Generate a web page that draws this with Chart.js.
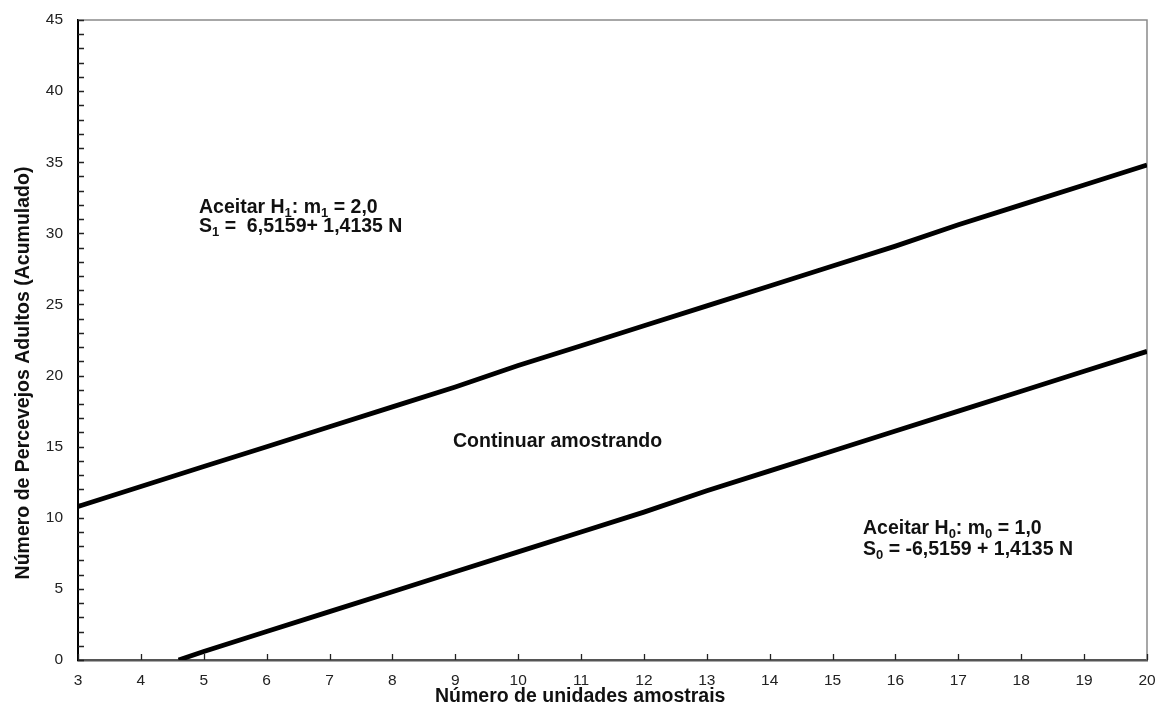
<!DOCTYPE html>
<html><head><meta charset="utf-8">
<script src="https://cdn.jsdelivr.net/npm/chart.js@4/dist/chart.umd.min.js"></script>
<style>html,body{margin:0;padding:0;background:#fff}#wrap{width:1174px;height:711px;position:relative}</style>
</head><body><div id="wrap"><canvas id="c"></canvas></div>
<script>
// Número de unidades amostrais (N) and cumulative counts
const upperN = [3,4,5,6,7,8,9,10,11,12,13,14,15,16,17,18,19,20];
const upperS = [10.8,12.2,13.6,15.0,16.4,17.8,19.2,20.7,22.1,23.5,24.9,26.3,27.7,29.1,30.6,32.0,33.4,34.8];
const lowerN = [4.6,5,6,7,8,9,10,11,12,13,14,15,16,17,18,19,20];
const lowerS = [0,0.6,2.0,3.4,4.8,6.2,7.6,9.0,10.4,11.9,13.3,14.7,16.1,17.5,18.9,20.3,21.7];
const xRange = [3,20];
const yRange = [0,45];
const yLabelStep = 5;
const xTitle = 'Número de unidades amostrais';
const yTitle = 'Número de Percevejos Adultos (Acumulado)';
// annotation texts (segments: [text, isSubscript]) anchored in data units
const notes = [
  {x:4.924, y:31.43, seg:[['Aceitar H',0],['1',1],[': m',0],['1',1],[' = 2,0',0]]},
  {x:4.924, y:30.09, seg:[['S',0],['1',1],[' =  6,5159+ 1,4135 N',0]]},
  {x:8.964, y:14.98, seg:[['Continuar amostrando',0]]},
  {x:15.484, y:8.86, seg:[['Aceitar H',0],['0',1],[': m',0],['0',1],[' = 1,0',0]]},
  {x:15.484, y:7.38, seg:[['S',0],['0',1],[' = -6,5159 + 1,4135 N',0]]}
];

const FONT = '"Liberation Sans", Arial, sans-serif';
const mk = (xs, ys) => xs.map((x,i)=>({x, y:ys[i]}));

const framePlugin = {
  id:'frame',
  beforeDatasetsDraw(chart){
    const {ctx, chartArea:a} = chart;
    ctx.save();
    ctx.strokeStyle = '#8a8a8a';
    ctx.lineWidth = 1.5;
    ctx.beginPath();
    ctx.moveTo(a.left, a.top); ctx.lineTo(a.right, a.top); ctx.lineTo(a.right, a.bottom);
    ctx.stroke();
    // inward tick marks
    const xs = chart.scales.x, ys = chart.scales.y;
    ctx.strokeStyle = '#222';
    ctx.lineWidth = 1.3;
    ctx.beginPath();
    xs.ticks.forEach((t,i)=>{ const px = Math.round(xs.getPixelForTick(i))+0.5; ctx.moveTo(px, a.bottom); ctx.lineTo(px, a.bottom-6); });
    ys.ticks.forEach((t,i)=>{ const py = Math.round(ys.getPixelForTick(i))+0.5; ctx.moveTo(a.left, py); ctx.lineTo(a.left+6, py); });
    ctx.stroke();
    ctx.restore();
  },
  afterDraw(chart){
    const {ctx} = chart;
    const xs = chart.scales.x, ys = chart.scales.y;
    ctx.save();
    ctx.fillStyle = '#111';
    const big = 'bold 19.5px ' + FONT, small = 'bold 13px ' + FONT;
    ctx.textBaseline = 'alphabetic';
    ctx.textAlign = 'left';
    notes.forEach(n=>{
      let px = xs.getPixelForValue(n.x);
      const py = ys.getPixelForValue(n.y);
      n.seg.forEach(([t,sub])=>{
        ctx.font = sub ? small : big;
        ctx.fillText(t, px, py + (sub ? 4 : 0));
        px += ctx.measureText(t).width;
      });
    });
    // axis titles
    ctx.font = big;
    ctx.fillText(xTitle, 435, 702);
    ctx.translate(29, 373);
    ctx.rotate(-Math.PI/2);
    ctx.textAlign = 'center';
    ctx.fillText(yTitle, 0, 0);
    ctx.restore();
  }
};

new Chart(document.getElementById('c'), {
  type:'line',
  data:{datasets:[
    {data:mk(upperN, upperS), borderColor:'#000', borderWidth:4.8, pointRadius:0, tension:0, fill:false, clip:0},
    {data:mk(lowerN, lowerS), borderColor:'#000', borderWidth:4.8, pointRadius:0, tension:0, fill:false, clip:0}
  ]},
  options:{
    responsive:true, maintainAspectRatio:false, animation:false,
    layout:{padding:{left:0, top:20, right:27, bottom:0}},
    plugins:{legend:{display:false}, tooltip:{enabled:false}},
    scales:{
      x:{type:'linear', min:xRange[0], max:xRange[1],
        afterFit(s){ s.height = 51; },
        grid:{drawOnChartArea:false, drawTicks:false},
        border:{color:'#555', width:2.5},
        ticks:{stepSize:1, autoSkip:false, padding:11, color:'#222', font:{family:FONT, size:15.5}}
      },
      y:{type:'linear', min:yRange[0], max:yRange[1],
        afterFit(s){ s.width = 78; s.paddingTop = 0; },
        grid:{drawOnChartArea:false, drawTicks:false},
        border:{color:'#000', width:2},
        ticks:{stepSize:1, autoSkip:false, padding:15, color:'#222', font:{family:FONT, size:15.5},
          callback:(v)=> v % yLabelStep === 0 ? String(v) : ''}
      }
    }
  },
  plugins:[framePlugin]
});
</script></body></html>
